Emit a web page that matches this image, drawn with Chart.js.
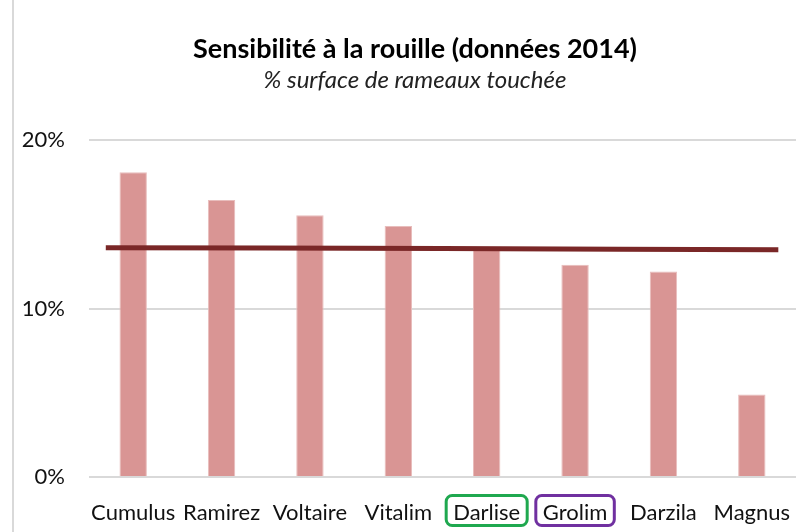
<!DOCTYPE html>
<html lang="fr">
<head>
<meta charset="utf-8">
<script src="https://cdn.jsdelivr.net/npm/chart.js@4/dist/chart.umd.min.js"></script>
<style>
  html, body { margin: 0; padding: 0; background: #fff; }
  #wrap { position: relative; width: 804px; height: 532px; }
  #wrap::before { content: ""; position: absolute; left: 12px; top: 0; bottom: 0; border-left: 2px solid #d9d9d9; }
</style>
</head>
<body>
<div id="wrap"><canvas id="chart" width="804" height="532"></canvas></div>
<script>
// ── Données ─────────────────────────────────────────────────────────────────
const varietes = ["Cumulus", "Ramirez", "Voltaire", "Vitalim", "Darlise", "Grolim", "Darzila", "Magnus"];
const surfaceTouchee = [18.1, 16.45, 15.55, 14.9, 13.5, 12.6, 12.2, 4.9]; // %
const moyenneX = [-0.31, 1.5, 3.5, 5.5, 7.3];      // étendue de la ligne de moyenne
const moyenneY = [13.62, 13.6, 13.57, 13.53, 13.5]; // %
const yTicks = [0, 10, 20];

// étiquettes encadrées : index → couleur
const encadres = { 4: "#1fa84f", 5: "#7030a0" };

const FONT = "Lato, 'Open Sans', sans-serif";
const COULEUR_BARRE = "#d99594";
const COULEUR_MOY = "#7a2727";

// L'axe Y est décalé par le padding gauche (pour centrer le titre comme
// l'original) : on élargit sa zone de dessin pour que "20%" ne soit pas rogné.
const axeYPlugin = {
  id: "axeY",
  beforeDraw(chart) {
    chart.scales.y.left = 0;
  },
};

// ── Cadres autour de certaines étiquettes de l'axe X ─────────────────────────
const cadresPlugin = {
  id: "cadres",
  afterDraw(chart) {
    const x = chart.scales.x;
    const ctx = chart.ctx;
    const opts = x.options.ticks;
    ctx.save();
    ctx.font = `${opts.font.size}px ${FONT}`;
    Object.entries(encadres).forEach(([i, couleur]) => {
      const cx = x.getPixelForTick(Number(i));
      const w = ctx.measureText(varietes[i]).width + 14;
      ctx.strokeStyle = couleur;
      ctx.lineWidth = 3;
      ctx.beginPath();
      ctx.roundRect(cx - w / 2, x.top + 18.5, w, 30, 6);
      ctx.stroke();
    });
    ctx.restore();
  },
};

new Chart(document.getElementById("chart"), {
  type: "bar",
  data: {
    labels: varietes,
    datasets: [
      {
        type: "line",
        label: "Moyenne",
        data: moyenneX.map((v, i) => ({ x: v, y: moyenneY[i] })),
        xAxisID: "x2",
        borderColor: COULEUR_MOY,
        borderWidth: 5,
        pointRadius: 0,
        tension: 0,
        order: 0,
      },
      {
        type: "bar",
        label: "Surface touchée",
        data: surfaceTouchee,
        xAxisID: "x",
        backgroundColor: COULEUR_BARRE,
        borderColor: "#e8bdbc",
        borderWidth: 1,
        grouped: false,
        barPercentage: 0.31,
        categoryPercentage: 1,
        order: 1,
      },
    ],
  },
  options: {
    responsive: false,
    animation: false,
    devicePixelRatio: 1,
    layout: { padding: { left: 34, right: 8, top: 0, bottom: 0 } },
    plugins: {
      legend: { display: false },
      tooltip: { enabled: false },
      title: {
        display: true,
        text: "Sensibilité à la rouille (données 2014)",
        color: "#000",
        font: { family: FONT, size: 27, weight: "bold" },
        padding: { top: 33, bottom: 0 },
      },
      subtitle: {
        display: true,
        text: "% surface de rameaux touchée",
        color: "#222",
        font: { family: FONT, size: 24, style: "italic" },
        padding: { top: 0, bottom: 46 },
      },
    },
    scales: {
      x: {
        type: "category",
        grid: { display: false, drawTicks: false },
        border: { display: false },
        ticks: {
          color: "#111",
          font: { family: FONT, size: 22 },
          maxRotation: 0,
          autoSkip: false,
          padding: 23,
        },
        afterFit: (s) => { s.height = 55; s.paddingLeft = 0; s.paddingRight = 0; },
      },
      x2: {
        type: "linear",
        display: false,
        offset: false,
        min: -0.5,
        max: 7.5,
      },
      y: {
        min: 0,
        max: 20,
        afterBuildTicks: (s) => { s.ticks = yTicks.map((v) => ({ value: v })); },
        grid: { color: "#d9d9d9", lineWidth: 2, drawTicks: false },
        border: { display: false },
        ticks: {
          color: "#111",
          font: { family: FONT, size: 22 },
          padding: 24,
          callback: (v) => v + "%",
        },
        afterFit: (s) => { s.width = 55; },
      },
    },
  },
  plugins: [axeYPlugin, cadresPlugin],
});
</script>
</body>
</html>
